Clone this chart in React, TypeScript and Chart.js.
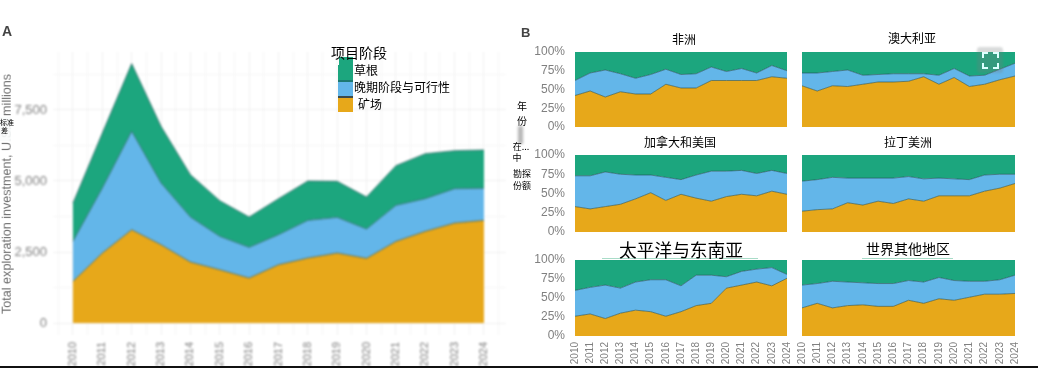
import React, { useEffect, useRef } from "react";
import { Chart, registerables } from "chart.js";

Chart.register(...registerables);

const years = [2010, 2011, 2012, 2013, 2014, 2015, 2016, 2017, 2018, 2019, 2020, 2021, 2022, 2023, 2024];

const stageNames = ["矿场", "晚期阶段与可行性", "草根"];

const totalMine = [1467, 2465, 3286, 2758, 2148, 1878, 1585, 2054, 2290, 2465, 2277, 2875, 3228, 3521, 3615];
const totalLate = [1408, 2285, 3464, 2172, 1584, 1174, 1079, 1056, 1325, 1255, 1033, 1268, 1150, 1209, 1127];
const totalGrass = [1350, 1940, 2381, 1995, 1491, 1255, 1068, 1268, 1385, 1268, 1127, 1397, 1584, 1338, 1350];

const africaMine = [42, 48, 40, 47, 44, 44, 57, 52, 52, 62, 62, 62, 62, 67, 65];
const africaLate = [20, 24, 36, 24, 21, 26, 20, 18, 19, 18, 12, 16, 10, 15, 10];
const africaGrass = [38, 28, 24, 29, 35, 30, 23, 30, 29, 20, 26, 22, 28, 18, 25];

const australiaMine = [55, 48, 55, 54, 57, 60, 60, 61, 67, 57, 66, 54, 57, 63, 68];
const australiaLate = [17, 24, 19, 22, 12, 10, 11, 10, 4, 12, 12, 14, 12, 14, 17];
const australiaGrass = [28, 28, 26, 24, 31, 30, 29, 29, 29, 31, 22, 32, 31, 23, 15];

const canadaMine = [33, 30, 33, 36, 43, 51, 41, 49, 44, 40, 46, 49, 47, 53, 49];
const canadaLate = [40, 43, 45, 39, 31, 23, 30, 19, 30, 39, 33, 31, 29, 27, 27];
const canadaGrass = [27, 27, 22, 25, 26, 26, 29, 32, 26, 21, 21, 20, 24, 20, 24];

const latinMine = [27, 29, 30, 38, 35, 40, 37, 43, 40, 47, 47, 47, 53, 57, 63];
const latinLate = [39, 39, 41, 32, 35, 30, 33, 29, 29, 23, 22, 21, 21, 18, 12];
const latinGrass = [34, 32, 29, 30, 30, 30, 30, 28, 31, 30, 31, 32, 26, 25, 25];

const pacificMine = [26, 29, 23, 30, 34, 32, 26, 32, 40, 43, 63, 67, 71, 66, 76];
const pacificLate = [34, 35, 44, 33, 37, 42, 48, 34, 40, 37, 15, 18, 17, 24, 5];
const pacificGrass = [40, 36, 33, 37, 29, 26, 26, 34, 20, 20, 22, 15, 12, 10, 19];

const restMine = [37, 43, 37, 40, 41, 39, 39, 47, 43, 49, 47, 51, 55, 55, 56];
const restLate = [30, 26, 35, 31, 29, 30, 30, 26, 28, 28, 26, 21, 17, 19, 24];
const restGrass = [33, 31, 28, 29, 30, 31, 31, 27, 29, 23, 27, 28, 28, 26, 20];

const yGridValues = [0, 1250, 2500, 3750, 5000, 6250, 7500, 8750];
const yTickLabels: Record<number, string> = { 0: "0", 2500: "2,500", 5000: "5,000", 7500: "7,500" };

const GREEN = "#1ca67e";
const BLUE = "#63b6e9";
const ORANGE = "#e7a81a";
const EDGE = "rgba(30,75,80,0.75)";
const TICK = "#808080";
const SANS = '"Liberation Sans", Arial, sans-serif';
const CJK = '"Noto Sans CJK SC", sans-serif';

function stacked(mine: number[], late: number[], grass: number[], topEdge: string) {
  const pts = (v: number[]) => years.map((x, i) => ({ x, y: v[i] }));
  return [
    { label: stageNames[0], data: pts(mine), backgroundColor: ORANGE, borderColor: EDGE, borderWidth: 0.8, fill: "origin", pointRadius: 0, tension: 0 },
    { label: stageNames[1], data: pts(late), backgroundColor: BLUE, borderColor: EDGE, borderWidth: 0.8, fill: "-1", pointRadius: 0, tension: 0 },
    { label: stageNames[2], data: pts(grass), backgroundColor: GREEN, borderColor: topEdge, borderWidth: 0.8, fill: "-1", pointRadius: 0, tension: 0 },
  ];
}

const fixedBox = (width?: number, height?: number) => (scale: any) => {
  if (width !== undefined) scale.width = width;
  if (height !== undefined) scale.height = height;
  scale.paddingLeft = 0;
  scale.paddingRight = 0;
  scale.paddingTop = 0;
  scale.paddingBottom = 0;
};

function totalConfig() {
  return {
    type: "line",
    data: { datasets: stacked(totalMine, totalLate, totalGrass, EDGE) },
    options: {
      animation: false,
      responsive: false,
      layout: { padding: { left: 0, top: 52, right: 14, bottom: 0 } },
      plugins: { legend: { display: false }, tooltip: { enabled: false } },
      scales: {
        x: {
          type: "linear",
          min: 2009.32,
          max: 2024.75,
          afterFit: fixedBox(undefined, 32),
          border: { display: false },
          grid: {
            drawTicks: false,
            color: (c: any) => (Number.isInteger(c.tick?.value) ? "#efefef" : "#f6f6f6"),
          },
          ticks: {
            stepSize: 0.5,
            includeBounds: false,
            autoSkip: false,
            minRotation: 90,
            maxRotation: 90,
            padding: 7,
            color: TICK,
            font: { family: SANS, size: 11 },
            callback: (v: number) => (Number.isInteger(v) ? String(v) : ""),
          },
        },
        y: {
          stacked: true,
          min: -420,
          max: 9540,
          afterBuildTicks: (scale: any) => {
            scale.ticks = yGridValues.map((value) => ({ value }));
          },
          afterFit: fixedBox(53),
          border: { display: false },
          grid: {
            drawTicks: false,
            color: (c: any) => (yTickLabels[c.tick?.value] ? "#efefef" : "#f6f6f6"),
          },
          ticks: {
            autoSkip: false,
            padding: 6,
            color: TICK,
            font: { family: SANS, size: 13 },
            callback: (v: number) => yTickLabels[v] ?? "",
          },
        },
      },
    },
  };
}

function facetConfig(mine: number[], late: number[], grass: number[], showY: boolean, showX: boolean, padLeft: number) {
  return {
    type: "line",
    data: { datasets: stacked(mine, late, grass, GREEN) },
    options: {
      animation: false,
      responsive: false,
      layout: { padding: { left: padLeft, top: 12, right: 8, bottom: showX ? 0 : 12 } },
      plugins: { legend: { display: false }, tooltip: { enabled: false } },
      scales: {
        x: {
          type: "linear",
          min: 2010,
          max: 2024,
          display: showX,
          afterFit: fixedBox(undefined, showX ? 31 : 0),
          border: { display: false },
          grid: { display: false, drawTicks: false },
          ticks: {
            stepSize: 1,
            autoSkip: false,
            minRotation: 90,
            maxRotation: 90,
            padding: 6,
            color: TICK,
            font: { family: SANS, size: 10 },
            callback: (v: number) => String(v),
          },
        },
        y: {
          stacked: true,
          min: 0,
          max: 100,
          display: showY,
          afterFit: fixedBox(showY ? 60 : 0),
          border: { display: false },
          grid: { display: false, drawTicks: false },
          ticks: {
            stepSize: 25,
            autoSkip: false,
            padding: 10,
            color: TICK,
            font: { family: SANS, size: 12 },
            callback: (v: number) => `${v}%`,
          },
        },
      },
    },
  };
}

function ChartBox({ left, top, width, height, config, blur }: any) {
  const ref = useRef<HTMLCanvasElement>(null);
  useEffect(() => {
    const chart = new Chart(ref.current as HTMLCanvasElement, config);
    return () => chart.destroy();
  }, []);
  return (
    <canvas
      ref={ref}
      width={width}
      height={height}
      style={{ position: "absolute", left, top, width, height, display: "block", filter: `blur(${blur}px)` }}
    />
  );
}

function Label({ x, y, size, children, center, extra }: any) {
  return (
    <div
      style={{
        position: "absolute",
        left: x,
        top: y,
        transform: center ? "translate(-50%,-50%)" : "translateY(-50%)",
        fontFamily: CJK,
        fontSize: size,
        lineHeight: 1,
        color: "#000",
        whiteSpace: "nowrap",
        ...extra,
      }}
    >
      {children}
    </div>
  );
}

function Block({ x, y, w, h, color, extra }: any) {
  return <div style={{ position: "absolute", left: x, top: y, width: w, height: h, background: color, ...extra }} />;
}

const facetTitles = ["非洲", "澳大利亚", "加拿大和美国", "拉丁美洲", "太平洋与东南亚", "世界其他地区"];

export default function App() {
  return (
    <div style={{ position: "absolute", left: 0, top: 0, width: 1038, height: 369, overflow: "hidden", background: "#fff" }}>
      <ChartBox left={0} top={0} width={520} height={367} blur={0.8} config={totalConfig()} />

      <ChartBox left={515} top={40} width={280} height={99} blur={0.7} config={facetConfig(africaMine, africaLate, africaGrass, true, false, 0)} />
      <ChartBox left={792} top={40} width={231} height={99} blur={0.7} config={facetConfig(australiaMine, australiaLate, australiaGrass, false, false, 10)} />
      <ChartBox left={515} top={143} width={280} height={101} blur={0.7} config={facetConfig(canadaMine, canadaLate, canadaGrass, true, false, 0)} />
      <ChartBox left={792} top={143} width={231} height={101} blur={0.7} config={facetConfig(latinMine, latinLate, latinGrass, false, false, 10)} />
      <ChartBox left={515} top={248} width={280} height={119} blur={0.7} config={facetConfig(pacificMine, pacificLate, pacificGrass, true, true, 0)} />
      <ChartBox left={792} top={248} width={231} height={119} blur={0.7} config={facetConfig(restMine, restLate, restGrass, false, true, 10)} />

      <Label x={7} y={194} size={12.6} center extra={{ fontFamily: SANS, color: "#6e6e6e", filter: "blur(0.7px)", transform: "translate(-50%,-50%) rotate(-90deg)" }}>
        Total exploration investment, U.S.$ millions
      </Label>

      <Block x={0} y={366} w={1038} h={1.5} color="#111" />

      <Label x={2} y={31} size={14} extra={{ fontFamily: SANS, fontWeight: 700, color: "#444", filter: "blur(0.7px)" }}>A</Label>
      <Label x={521} y={32} size={13} extra={{ fontFamily: SANS, fontWeight: 700, color: "#444", filter: "blur(0.7px)" }}>B</Label>

      <Block x={0} y={117} w={11} h={24} color="rgba(250,252,252,0.9)" />
      <Label x={0} y={122} size={7}>标准</Label>
      <Label x={1} y={130} size={7}>差</Label>

      <Block x={339} y={57} w={14} h={10} color={GREEN} extra={{ filter: "blur(0.5px)" }} />
      <Block x={338} y={65} w={15} h={17} color={GREEN} />
      <Block x={338} y={80} w={15} h={2} color="rgba(30,110,110,0.8)" />
      <Block x={338} y={82} w={15} h={14} color={BLUE} />
      <Block x={338} y={96} w={15} h={2} color="#3c4a4a" />
      <Block x={338} y={98} w={15} h={14} color={ORANGE} />
      <Label x={331} y={52} size={14}>项目阶段</Label>
      <Label x={354} y={70} size={12}>草根</Label>
      <Label x={354} y={87} size={12}>晚期阶段与可行性</Label>
      <Label x={358} y={104} size={12}>矿场</Label>

      <Label x={522} y={106} size={10} center>年</Label>
      <Label x={522} y={121} size={10} center>份</Label>
      <Block x={518} y={126} w={5} h={18} color="#b5b5b5" extra={{ filter: "blur(1.5px)" }} />
      <Label x={521} y={146} size={9} center>在...</Label>
      <Label x={517} y={157} size={9} center>中</Label>
      <Label x={522} y={173} size={9} center>勘探</Label>
      <Label x={522} y={185} size={9} center>份额</Label>

      <Label x={684} y={39} size={12} center>{facetTitles[0]}</Label>
      <Label x={912} y={38} size={12} center>{facetTitles[1]}</Label>
      <Label x={680} y={142} size={12} center>{facetTitles[2]}</Label>
      <Label x={908} y={142} size={12} center>{facetTitles[3]}</Label>

      <Block x={602} y={240} w={156} h={18} color="#fff" extra={{ borderBottom: "1.5px solid #a8dcc8" }} />
      <Label x={681} y={250} size={17.7} center>{facetTitles[4]}</Label>
      <Block x={862} y={240} w={91} h={18} color="#fff" extra={{ borderBottom: "1.5px solid #a8dcc8" }} />
      <Label x={908} y={248} size={14} center>{facetTitles[5]}</Label>

      <Block x={977} y={47} w={26} h={26} color="rgba(120,125,125,0.28)" extra={{ borderRadius: 3, filter: "blur(1px)" }} />
      <Block x={982} y={52} w={4} h={4} extra={{ borderLeft: "2px solid #dff", borderTop: "2px solid #dff", filter: "blur(0.4px)" }} />
      <Block x={993} y={52} w={4} h={4} extra={{ borderRight: "2px solid #dff", borderTop: "2px solid #dff", filter: "blur(0.4px)" }} />
      <Block x={982} y={63} w={4} h={4} extra={{ borderLeft: "2px solid #dff", borderBottom: "2px solid #dff", filter: "blur(0.4px)" }} />
      <Block x={993} y={63} w={4} h={4} extra={{ borderRight: "2px solid #dff", borderBottom: "2px solid #dff", filter: "blur(0.4px)" }} />
    </div>
  );
}
